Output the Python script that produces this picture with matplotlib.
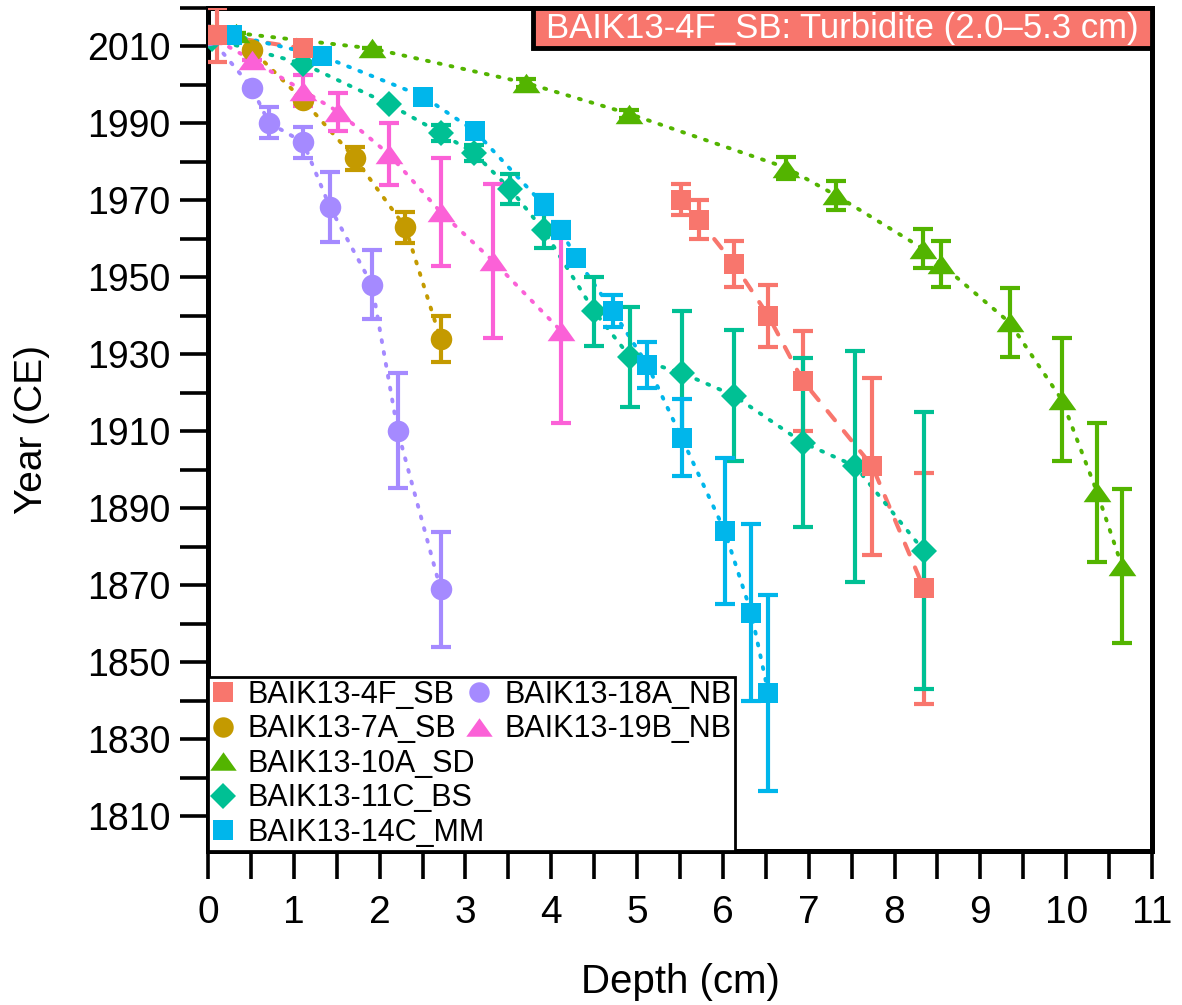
import matplotlib
matplotlib.use('Agg')
import matplotlib.pyplot as plt
from matplotlib.lines import Line2D
from matplotlib.patches import Rectangle
from matplotlib.path import Path
from matplotlib.ticker import MultipleLocator

# ---------------- data ----------------
names = ['BAIK13-4F_SB', 'BAIK13-7A_SB', 'BAIK13-10A_SD', 'BAIK13-11C_BS',
         'BAIK13-14C_MM', 'BAIK13-18A_NB', 'BAIK13-19B_NB']
colors = ['#F8766D', '#C49A00', '#53B400', '#00C094', '#00B6EB', '#A58AFF', '#FB61D7']

depth_4F = [0.10, 1.11, 5.51, 5.72, 6.13, 6.53, 6.93, 7.74, 8.34]
year_4F = [2013, 2009.5, 1970.2, 1965.0, 1953.5, 1940.0, 1923.2, 1901.0, 1869.3]
err_4F = [7.0, 0.0, 4.0, 5.0, 6.0, 8.0, 13.0, 23.0, 30.0]

depth_7A = [0.05, 0.51, 1.11, 1.71, 2.30, 2.71]
year_7A = [2013, 2009.2, 1996.0, 1981.0, 1963.0, 1934.0]
err_7A = [0.0, 0.0, 0.0, 3.0, 4.0, 6.0]

depth_10A = [0.33, 1.91, 3.71, 4.91, 6.74, 7.32, 8.33, 8.54, 9.34, 9.95, 10.36, 10.65]
year_10A = [2013.5, 2009.5, 2000.5, 1992.5, 1978.5, 1971.3, 1957.5, 1953.5, 1938.3, 1918.2, 1894.2, 1875.0]
err_10A = [0.0, 0.0, 1.0, 1.0, 2.8, 3.8, 5.0, 6.0, 9.0, 16.0, 18.0, 20.0]

depth_11C = [0.05, 1.11, 2.11, 2.71, 3.10, 3.52, 3.91, 4.50, 4.92, 5.52, 6.13, 6.93, 7.54, 8.34]
year_11C = [2012.0, 2005.5, 1995.0, 1987.5, 1982.3, 1973.0, 1962.3, 1941.2, 1929.3, 1925.2, 1919.3, 1907.1, 1901.0, 1879.0]
err_11C = [0.0, 0.0, 0.0, 2.0, 2.0, 4.0, 4.6, 9.0, 13.0, 16.0, 17.0, 22.0, 30.0, 36.0]

depth_14C = [0.28, 1.33, 2.51, 3.11, 3.91, 4.11, 4.29, 4.72, 5.12, 5.52, 6.02, 6.33, 6.53]
year_14C = [2013.0, 2007.5, 1997.0, 1988.0, 1968.9, 1962.4, 1955.0, 1941.2, 1927.3, 1908.3, 1884.2, 1862.9, 1842.0]
err_14C = [0.0, 0.0, 0.0, 1.5, 2.5, 2.0, 1.5, 4.2, 5.9, 10.0, 19.0, 23.0, 25.5]

depth_18A = [0.0, 0.51, 0.71, 1.11, 1.42, 1.91, 2.21, 2.71]
year_18A = [2013.0, 1999.3, 1990.2, 1985.1, 1968.3, 1948.1, 1910.2, 1869.0]
err_18A = [0.0, 0.0, 4.0, 4.0, 9.0, 9.0, 15.0, 15.0]

depth_19B = [0.0, 0.51, 1.11, 1.52, 2.11, 2.71, 3.32, 4.11]
year_19B = [2013.0, 2006.5, 1998.5, 1993.0, 1982.0, 1967.0, 1954.3, 1936.2]
err_19B = [0.0, 0.0, 4.0, 5.0, 8.0, 14.0, 20.0, 24.0]

x_ticks = list(range(0, 12))
y_ticks = list(range(1810, 2011, 20))
label_text = 'BAIK13-4F_SB: Turbidite (2.0\u20135.3 cm)'

# ---------------- styling ----------------
FONT = ['Liberation Sans', 'DejaVu Sans']
plt.rcParams['font.family'] = FONT

tri = Path([(0, 0.70), (-1, -0.70), (1, -0.70), (0, 0.70)],
           [Path.MOVETO, Path.LINETO, Path.LINETO, Path.CLOSEPOLY])

series = [
    (depth_4F, year_4F, err_4F, 's', 14.5, 'dash', 2),
    (depth_7A, year_7A, err_7A, 'o', 15.5, 'dot', None),
    (depth_10A, year_10A, err_10A, tri, 20, 'dot', None),
    (depth_11C, year_11C, err_11C, 'D', 13.5, 'dot', None),
    (depth_14C, year_14C, err_14C, 's', 14.5, 'dot', None),
    (depth_18A, year_18A, err_18A, 'o', 15.5, 'dot', None),
    (depth_19B, year_19B, err_19B, tri, 20, 'dot', None),
]
marker_z = [4.9, 4.1, 4.2, 4.3, 4.4, 4.5, 4.6]

fig = plt.figure(figsize=(11.82, 10.05), dpi=100)
ax = fig.add_axes([0.17597, 0.15323, 0.79865, 0.83881])

handles = []
for i, (d, y, e, m, ms, ls, brk) in enumerate(series):
    c = colors[i]
    if ls == 'dash':
        style = dict(linestyle=(0, (2.8, 3.4)), lw=3.0, dash_capstyle='round')
    else:
        style = dict(linestyle=(0, (0.5, 2.6)), lw=2.8, dash_capstyle='round')
    if brk is None:
        segs = [(0, len(d))]
    else:
        segs = [(0, brk), (brk, len(d))]
    for a, b in segs:
        ax.plot(d[a:b], y[a:b], color=c, zorder=2, **style)
    ax.errorbar(d, y, yerr=e, fmt='none', ecolor=c, elinewidth=3,
                capsize=7, capthick=3, zorder=3)
    ax.plot(d, y, linestyle='none', marker=m, markersize=ms, color=c,
            markeredgewidth=0, zorder=marker_z[i])
    handles.append(Line2D([], [], linestyle='none', marker=m,
                          markersize=ms * 0.95, color=c, markeredgewidth=0))

ax.set_xlim(0, 11)
ax.set_ylim(1801, 2020)
ax.set_xticks(x_ticks)
ax.set_xticklabels([str(v) for v in x_ticks])
ax.xaxis.set_minor_locator(MultipleLocator(0.5))
ax.set_yticks(y_ticks)
ax.set_yticklabels([str(v) for v in y_ticks])
ax.yaxis.set_minor_locator(MultipleLocator(10))

ax.tick_params(axis='both', which='both', direction='out', length=20,
               width=2.6, color='black', top=False, right=False)
ax.tick_params(axis='x', which='major', labelsize=28, pad=12)
ax.tick_params(axis='y', which='major', labelsize=27, pad=7)

for sp in ax.spines.values():
    sp.set_linewidth(3.6)
    sp.set_color('black')

ax.set_xlabel('Depth (cm)', fontsize=29)
ax.set_ylabel('Year (CE)', fontsize=28)
ax.xaxis.set_label_coords(0.5, -0.155)
ax.xaxis.label.set_va('center')
ax.yaxis.set_label_coords(-0.186, 0.5)
ax.yaxis.label.set_va('center')

# legend: 5 rows in first column, 2 in second (second column tucked close)
blank = Line2D([], [], linestyle='none', marker='')
leg_handles = handles[:5] + handles[5:] + [blank] * 3
leg_labels = names[:5] + names[5:] + [''] * 3
leg = ax.legend(leg_handles, leg_labels, loc='lower left', ncol=2,
                bbox_to_anchor=(0, 0), borderaxespad=0, frameon=True,
                fancybox=False, edgecolor='black', framealpha=1,
                fontsize=22, handlelength=0.75, handletextpad=0.45,
                columnspacing=-0.57, labelspacing=0.15, borderpad=0.1)
leg.get_frame().set_linewidth(2.0)
leg.set_zorder(10)

# title box at top-right
x0 = (533 - 208) / 944.0
box_h = 40 / 843.0
ax.add_patch(Rectangle((x0, 1 - box_h), 1 - x0, box_h, transform=ax.transAxes,
                       facecolor='#F8766D', edgecolor='black', lw=3.5,
                       clip_on=False, zorder=11))
ax.text((x0 + 1) / 2, 1 - box_h / 2 - 0.001, label_text, transform=ax.transAxes,
        ha='center', va='center', color='white', fontsize=25, zorder=12)

fig.savefig('out.png', dpi=100)
